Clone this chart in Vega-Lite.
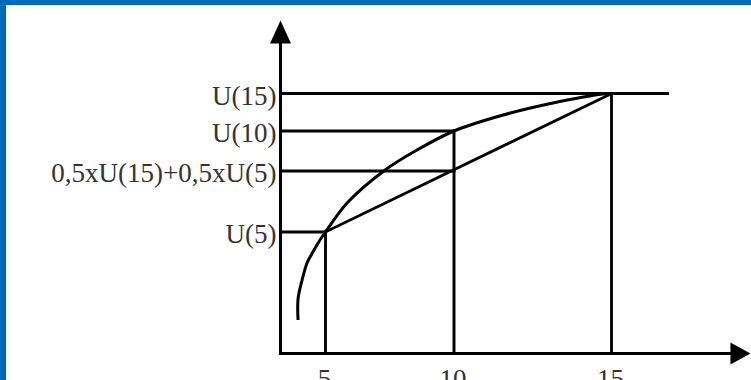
{
  "$schema": "https://vega.github.io/schema/vega-lite/v6.json",
  "autosize": {"type": "none"},
  "padding": {"left": 6, "top": 5, "right": 0, "bottom": 0},
  "width": 745,
  "height": 375,
  "background": "#0068B5",
  "config": {"view": {"stroke": null, "fill": "white"}},
  "datasets": {
    "segments": [
      {"kind": "axis", "x": 3, "u": 0, "x2": 18.71, "u2": 0},
      {"kind": "axis", "x": 3, "u": 0, "x2": 3, "u2": 321.5},
      {"kind": "guide", "x": 3, "u": 260, "x2": 16.61, "u2": 260},
      {"kind": "guide", "x": 3, "u": 222.5, "x2": 10, "u2": 222.5},
      {"kind": "guide", "x": 3, "u": 182.5, "x2": 10, "u2": 182.5},
      {"kind": "guide", "x": 3, "u": 121.5, "x2": 5, "u2": 121.5},
      {"kind": "drop", "x": 5, "u": 121.5, "x2": 5, "u2": 0},
      {"kind": "guide", "x": 10, "u": 222.5, "x2": 10, "u2": 0},
      {"kind": "drop", "x": 15, "u": 260, "x2": 15, "u2": 0},
      {"kind": "chord", "x": 5, "u": 121.5, "x2": 15, "u2": 260}
    ],
    "curve": [
      {"x": 3.78, "u": 33.5},
      {"x": 3.78, "u": 54.5},
      {"x": 3.96, "u": 73.5},
      {"x": 4.18, "u": 90.5},
      {"x": 4.44, "u": 101.5},
      {"x": 4.84, "u": 116.5},
      {"x": 5, "u": 121.5},
      {"x": 5.84, "u": 150.5},
      {"x": 7.32, "u": 183.5},
      {"x": 8.56, "u": 203.5},
      {"x": 10, "u": 222.5},
      {"x": 11.56, "u": 238.5},
      {"x": 13.14, "u": 250.5},
      {"x": 14.73, "u": 259.5},
      {"x": 15, "u": 260}
    ],
    "arrowsUp": [{"x": 3, "u": 321.5}],
    "arrowsRight": [{"x": 18.71, "u": 0}],
    "ylabels": [
      {"text": "U(15)", "x": 3, "u": 260},
      {"text": "U(10)", "x": 3, "u": 222.5},
      {"text": "0,5xU(15)+0,5xU(5)", "x": 3, "u": 182.5},
      {"text": "U(5)", "x": 3, "u": 121.5}
    ],
    "xlabels": [
      {"text": "5", "x": 5, "u": 0},
      {"text": "10", "x": 10, "u": 0},
      {"text": "15", "x": 15, "u": 0}
    ]
  },
  "encoding": {
    "x": {"field": "x", "type": "quantitative", "axis": null,
          "scale": {"domain": [3, 5, 10, 15, 19], "range": [274.5, 319.5, 448, 605.5, 744.5], "nice": false, "zero": false}},
    "y": {"field": "u", "type": "quantitative", "axis": null,
          "scale": {"domain": [-26.5, 348.5], "nice": false, "zero": false}}
  },
  "layer": [
    {
      "data": {"name": "segments"},
      "mark": {"type": "rule", "color": "black", "strokeCap": "square"},
      "encoding": {
        "x2": {"field": "x2"},
        "y2": {"field": "u2"},
        "strokeWidth": {"field": "kind", "type": "nominal", "legend": null,
          "scale": {"domain": ["axis", "guide", "drop", "chord"], "range": [3, 2.8, 1.3, 2.6]}}
      }
    },
    {
      "data": {"name": "curve"},
      "mark": {"type": "line", "color": "black", "strokeWidth": 3, "interpolate": "catmull-rom"},
      "encoding": {"order": {"value": null}}
    },
    {
      "data": {"name": "arrowsUp"},
      "mark": {"type": "point", "shape": "M0,-1L-0.913,1L0.913,1Z", "size": 529, "filled": true, "color": "black", "opacity": 1, "strokeWidth": 0}
    },
    {
      "data": {"name": "arrowsRight"},
      "mark": {"type": "point", "shape": "M1,0L-1,-1.1L-1,1.1Z", "size": 400, "filled": true, "color": "black", "opacity": 1, "strokeWidth": 0}
    },
    {
      "data": {"name": "ylabels"},
      "mark": {"type": "text", "align": "right", "baseline": "middle", "dx": -4, "dy": 3, "font": "Liberation Serif", "fontSize": 27, "color": "#333333"},
      "encoding": {"text": {"field": "text"}}
    },
    {
      "data": {"name": "xlabels"},
      "mark": {"type": "text", "align": "center", "baseline": "alphabetic", "dx": -1, "dy": 34.5, "font": "Liberation Serif", "fontSize": 27, "color": "#333333"},
      "encoding": {"text": {"field": "text"}}
    }
  ]
}
